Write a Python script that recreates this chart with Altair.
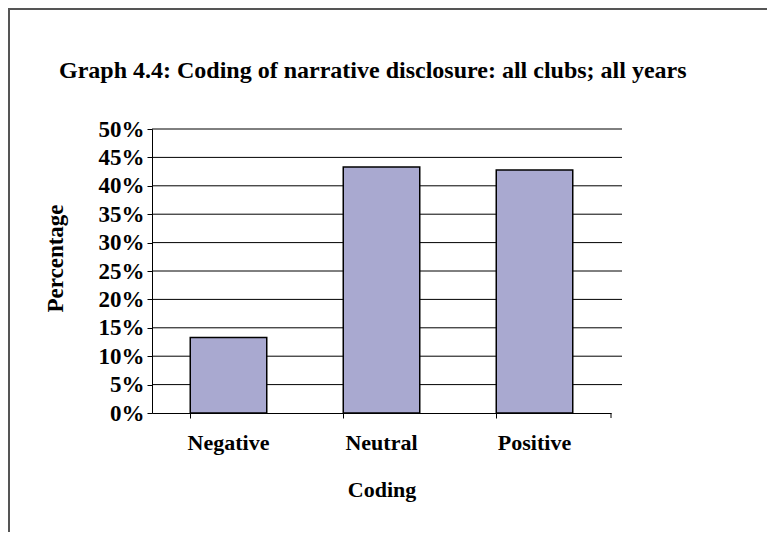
import altair as alt
import pandas as pd

# ---- data ----
categories = ["Negative", "Neutral", "Positive"]
percentages = [13.3, 43.3, 42.8]
grid_values = [5, 10, 15, 20, 25, 30, 35, 40, 45, 50]
y_tick_values = [0, 5, 10, 15, 20, 25, 30, 35, 40, 45, 50]
chart_title = "Graph 4.4: Coding of narrative disclosure: all clubs; all years"
x_title = "Coding"
y_title = "Percentage"

FONT = "Liberation Serif"
W, H = 459, 284

bars_df = pd.DataFrame({"cat": categories, "pct": percentages})
grid_df = pd.DataFrame({"pct": grid_values})
title_df = pd.DataFrame({"t": [chart_title]})

yscale = alt.Scale(domain=[0, 50], nice=False, zero=True)
xscale = alt.Scale(domain=categories, paddingInner=0.5, paddingOuter=0.25)

y_axis = alt.Axis(
    title=y_title,
    values=y_tick_values,
    labelExpr="datum.value + '%'",
    labelFont=FONT,
    labelFontSize=23,
    labelFontWeight="bold",
    labelColor="black",
    labelPadding=3,
    tickSize=5,
    tickColor="black",
    domainColor="black",
    grid=False,
    titleFont=FONT,
    titleFontSize=23,
    titleFontWeight="bold",
    titleColor="black",
    titleX=-97,
    titleY=129,
    titleAngle=270,
    titleBaseline="middle",
    titleAlign="center",
)

grid = alt.Chart(grid_df).mark_rule(color="black", strokeWidth=1).encode(
    y=alt.Y("pct:Q", scale=yscale, axis=y_axis, title=y_title),
    x=alt.value(0),
    x2=alt.value(W + 11),
)

bars = alt.Chart(bars_df).mark_bar(
    color="#A9A9D0", stroke="black", strokeWidth=1.5
).encode(
    x=alt.X(
        "cat:N",
        scale=xscale,
        sort=categories,
        axis=alt.Axis(
            title=x_title,
            labelAngle=0,
            labelFont=FONT,
            labelFontSize=22,
            labelFontWeight="bold",
            labelColor="black",
            labelPadding=14,
            tickSize=5,
            tickColor="black",
            domainColor="black",
            bandPosition=0,
            grid=False,
            titleFont=FONT,
            titleFontSize=22,
            titleFontWeight="bold",
            titleColor="black",
            titleY=76,
            titleBaseline="middle",
        ),
    ),
    y=alt.Y("pct:Q", scale=yscale, axis=y_axis, title=y_title),
)

end_tick = alt.Chart(title_df).mark_rule(color="black", strokeWidth=1).encode(
    x=alt.value(W), y=alt.value(H), y2=alt.value(H + 5)
)

title = alt.Chart(title_df).mark_text(
    font=FONT, fontSize=24, fontWeight="bold", color="black",
    align="left", baseline="alphabetic"
).encode(text="t:N", x=alt.value(-93), y=alt.value(-51))

border_top = alt.Chart(title_df).mark_rule(color="#555555", strokeWidth=2).encode(
    x=alt.value(-144), x2=alt.value(775), y=alt.value(-120)
)
border_left = alt.Chart(title_df).mark_rule(color="#555555", strokeWidth=2).encode(
    x=alt.value(-143), y=alt.value(-121), y2=alt.value(540)
)

chart = alt.layer(grid, bars, end_tick, title, border_top, border_left).properties(
    width=W,
    height=H,
    autosize=alt.AutoSizeParams(type="none"),
    padding={"left": 144, "top": 121, "right": 156, "bottom": 119},
    background="white",
).configure_view(stroke=None)

chart.save("out.html", embed_options={"renderer": "svg", "actions": False})
